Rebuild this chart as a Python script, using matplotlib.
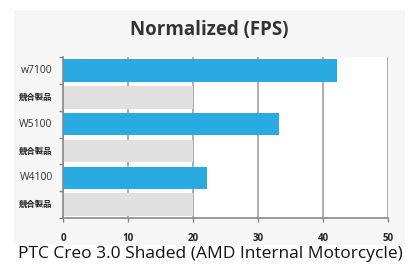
import matplotlib.pyplot as plt
import numpy as np

plt.rcParams['font.family'] = ['Open Sans', 'Noto Sans CJK JP', 'DejaVu Sans']

labels = ['w7100', '競合製品', 'W5100', '競合製品', 'W4100', '競合製品']
values = [42.2, 20, 33.2, 20, 22.2, 20]
colors = ['#29abe2', '#e0e0e0', '#29abe2', '#e0e0e0', '#29abe2', '#e0e0e0']
xticks = [0, 10, 20, 30, 40, 50]

fig = plt.figure(figsize=(4.15, 2.64), dpi=100)
fig.patch.set_facecolor('white')

# light grey panel behind the chart
bg = fig.add_axes([0.034, 0.072, 0.942, 0.89])
bg.set_facecolor('#f6f6f6')
bg.set_xticks([])
bg.set_yticks([])
for s in bg.spines.values():
    s.set_visible(False)

ax = fig.add_axes([0.152, 0.174, 0.783, 0.61])
ax.set_facecolor('white')

y = np.arange(len(labels))
ax.barh(y, values, height=0.84, color=colors, zorder=2)
ax.set_ylim(len(labels) - 0.5, -0.5)
ax.set_xlim(0, 50)

ax.set_xticks(xticks)
ax.set_xticklabels([str(v) for v in xticks], fontsize=7, fontweight='bold', color='#222222')
ax.set_yticks(y)
ax.set_yticklabels([])
for i, lab in enumerate(labels):
    if lab == '競合製品':
        ax.text(-1.6, i, lab, ha='right', va='center', fontsize=6, fontweight='bold',
                family=['Noto Sans CJK JP'], color='#222222')
    else:
        ax.text(-1.6, i, lab, ha='right', va='center', fontsize=7.5, color='#333333')
ax.tick_params(axis='y', length=0)
ax.set_yticks(np.arange(-0.5, len(labels), 1.0), minor=True)
ax.tick_params(axis='y', which='minor', length=3, color='#888888', width=1)
ax.tick_params(axis='x', length=3, color='#888888', width=1, pad=8)

ax.grid(axis='x', color='#a0a0a0', linewidth=1.2, zorder=1)
ax.set_axisbelow(True)
for s in ['top', 'right']:
    ax.spines[s].set_visible(False)
ax.spines['left'].set_color('#888888')
ax.spines['bottom'].set_color('#888888')
ax.spines['left'].set_linewidth(1.2)
ax.spines['bottom'].set_linewidth(1.2)

fig.text(0.504, 0.885, 'Normalized (FPS)', ha='center', va='center',
         fontsize=13.5, fontweight='bold', color='#333333')
fig.text(0.508, 0.038, 'PTC Creo 3.0 Shaded (AMD Internal Motorcycle)', ha='center',
         va='center', fontsize=12.5, color='#111111')

fig.savefig('out.png', dpi=100)
